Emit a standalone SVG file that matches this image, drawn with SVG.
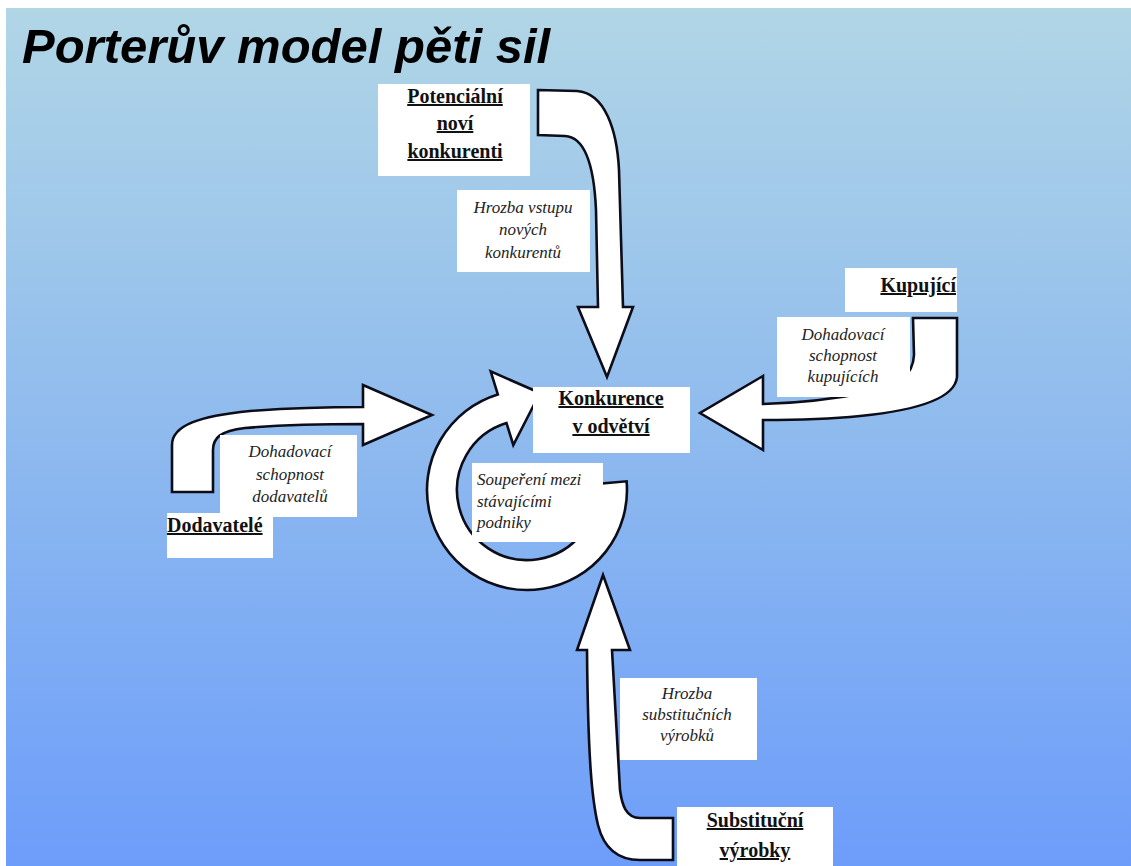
<svg xmlns="http://www.w3.org/2000/svg" width="1131" height="866" viewBox="0 0 1131 866">
<defs>
<linearGradient id="bg" x1="0" y1="0" x2="0" y2="1">
<stop offset="0" stop-color="#b1d6e6"/>
<stop offset="0.5" stop-color="#8ebaee"/>
<stop offset="1" stop-color="#6d9dfa"/>
</linearGradient>
</defs>
<style>
.box{fill:#ffffff;}
.arrow{fill:#ffffff;stroke:#0d0d1a;stroke-width:2.6;stroke-linejoin:miter;}
.lbl{font-family:"Liberation Serif","Times New Roman",serif;font-weight:bold;font-size:20px;fill:#111;text-decoration:underline;}
.it{font-family:"Liberation Serif","Times New Roman",serif;font-style:italic;font-size:17px;fill:#222;}
.title{font-family:"Liberation Sans",Arial,sans-serif;font-weight:bold;font-style:italic;font-size:49px;fill:#000;}
</style>
<rect x="0" y="0" width="1131" height="866" fill="#ffffff"/>
<rect x="6" y="8" width="1125" height="858" fill="url(#bg)"/>
<text class="title" x="22" y="63">Porterův model pěti sil</text>

<g id="connectors">
<path class="arrow" d="M538,90 L577,91 C605,93 617,130 619,170 L623,307 L633,307 L607,377 L578,307 L598,307 L596,210 C594,165 585,137 565,136 L538,135 Z"/>
<path class="arrow" d="M913,318 L957,318 L957,377 C955,398 920,410 860,416 C830,419 795,420 763,420 L763,450 L700,413 L763,376 L763,404 C800,403 840,398 870,392 C900,385 913,375 914,355 Z"/>
<path class="arrow" d="M172,492 L172,445 C172,425 200,416 250,411 C290,408 330,407 363,407 L363,385 L432,415 L363,445 L363,424 C320,424 280,425 245,428 C220,431 213,438 213,450 L213,492 Z"/>
<path class="arrow" d="M587,650 L577,650 L603,575 L630,650 L612,650 L620,790 C622,805 626,818 640,818 L673,818 L673,860 L640,860 C615,860 603,845 598,825 C592,800 588,760 587,650 Z"/>
<path class="arrow" d="M626.6,481.3 A100,100 0 1 1 497.8,394.4 L490.7,371.4 L540,393 L513.3,445 L506.5,423.1 A70,70 0 1 0 596.7,483.9 Z"/>
</g>

<g id="node-potencialni">
<rect class="box" x="378" y="84" width="152" height="92"/>
<text class="lbl" x="455" y="103" text-anchor="middle">Potenciální</text>
<text class="lbl" x="455" y="130" text-anchor="middle">noví</text>
<text class="lbl" x="455" y="158" text-anchor="middle">konkurenti</text>
</g>

<g id="label-hrozba-vstupu">
<rect class="box" x="457" y="190" width="133" height="82"/>
<text class="it" x="523" y="213" text-anchor="middle">Hrozba vstupu</text>
<text class="it" x="523" y="235" text-anchor="middle">nových</text>
<text class="it" x="523" y="258" text-anchor="middle">konkurentů</text>
</g>

<g id="node-kupujici">
<rect class="box" x="845" y="268" width="112" height="44"/>
<text class="lbl" x="956" y="292" text-anchor="end">Kupující</text>
</g>

<g id="label-dohad-kupujicich">
<rect class="box" x="777" y="317" width="133" height="80"/>
<text class="it" x="843" y="340" text-anchor="middle">Dohadovací</text>
<text class="it" x="843" y="361" text-anchor="middle">schopnost</text>
<text class="it" x="843" y="382" text-anchor="middle">kupujících</text>
</g>

<g id="label-dohad-dodavatelu">
<rect class="box" x="220" y="435" width="137" height="82"/>
<text class="it" x="290" y="457" text-anchor="middle">Dohadovací</text>
<text class="it" x="290" y="480" text-anchor="middle">schopnost</text>
<text class="it" x="290" y="502" text-anchor="middle">dodavatelů</text>
</g>

<g id="node-dodavatele">
<rect class="box" x="167" y="513" width="106" height="45"/>
<text class="lbl" x="167" y="532">Dodavatelé</text>
</g>

<g id="label-souperemi">
<rect class="box" x="472" y="463" width="131" height="79"/>
<text class="it" x="477" y="485">Soupeření mezi</text>
<text class="it" x="477" y="507">stávajícími</text>
<text class="it" x="477" y="528">podniky</text>
</g>

<g id="node-konkurence">
<rect class="box" x="533" y="387" width="157" height="66"/>
<text class="lbl" x="611" y="405" text-anchor="middle">Konkurence</text>
<text class="lbl" x="611" y="433" text-anchor="middle">v odvětví</text>
</g>

<g id="label-hrozba-substitucnich">
<rect class="box" x="620" y="678" width="137" height="82"/>
<text class="it" x="687" y="699" text-anchor="middle">Hrozba</text>
<text class="it" x="687" y="720" text-anchor="middle">substitučních</text>
<text class="it" x="687" y="741" text-anchor="middle">výrobků</text>
</g>

<g id="node-substitucni">
<rect class="box" x="677" y="807" width="156" height="59"/>
<text class="lbl" x="755" y="827" text-anchor="middle">Substituční</text>
<text class="lbl" x="755" y="857" text-anchor="middle">výrobky</text>
</g>
</svg>
